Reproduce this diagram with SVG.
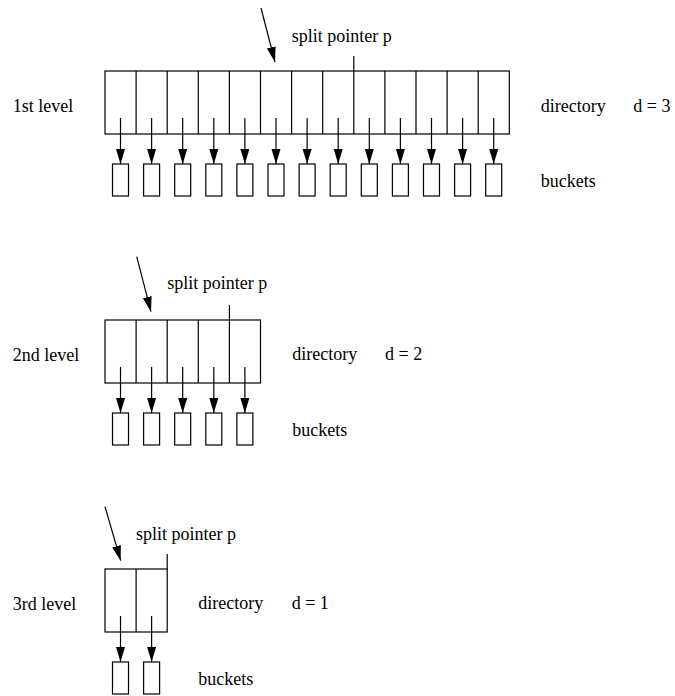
<svg xmlns="http://www.w3.org/2000/svg" width="675" height="696" viewBox="0 0 675 696">
  <style>
    text { font-family: "Liberation Serif", "Times New Roman", serif; font-size: 18px; fill: #000; }
    .box { fill: none; stroke: #000; stroke-width: 1.2; }
    .div { stroke: #000; stroke-width: 1.2; fill: none; }
    .arr { stroke: #000; stroke-width: 1.2; fill: none; marker-end: url(#head); }
  </style>
  <defs>
    <marker id="head" markerUnits="userSpaceOnUse" markerWidth="16" markerHeight="10" refX="15" refY="4.5" orient="auto">
      <path d="M0,0 L15,4.5 L0,9 Z" fill="#000"/>
    </marker>
  </defs>

  <rect width="675" height="696" fill="#fff"/>

  <!-- level 1: 13 directory cells, d = 3 -->
  <g id="level1">
    <text x="12.7" y="111.7">1st level</text>
    <text x="291.7" y="42">split pointer p</text>
    <text x="540.7" y="111.7">directory</text>
    <text x="633.3" y="111.7">d = 3</text>
    <text x="540.7" y="187.3">buckets</text>
    <g id="dir1">
      <rect class="box" x="105" y="71" width="404.3" height="63"/>
      <path class="div" d="M136.1,71V134 M167.2,71V134 M198.3,71V134 M229.4,71V134 M260.5,71V134 M291.6,71V134 M322.7,71V134 M353.8,56V134 M384.9,71V134 M416,71V134 M447.1,71V134 M478.2,71V134"/>
    </g>
    <g id="buckets1">
      <rect class="box" x="112.5" y="164" width="16" height="32"/>
      <rect class="box" x="143.6" y="164" width="16" height="32"/>
      <rect class="box" x="174.7" y="164" width="16" height="32"/>
      <rect class="box" x="205.8" y="164" width="16" height="32"/>
      <rect class="box" x="236.9" y="164" width="16" height="32"/>
      <rect class="box" x="268" y="164" width="16" height="32"/>
      <rect class="box" x="299.1" y="164" width="16" height="32"/>
      <rect class="box" x="330.2" y="164" width="16" height="32"/>
      <rect class="box" x="361.3" y="164" width="16" height="32"/>
      <rect class="box" x="392.4" y="164" width="16" height="32"/>
      <rect class="box" x="423.5" y="164" width="16" height="32"/>
      <rect class="box" x="454.6" y="164" width="16" height="32"/>
      <rect class="box" x="485.7" y="164" width="16" height="32"/>
    </g>
  </g>

  <!-- level 2: 5 directory cells, d = 2 -->
  <g id="level2">
    <text x="12.7" y="360.7">2nd level</text>
    <text x="167.3" y="289.3">split pointer p</text>
    <text x="292.3" y="360">directory</text>
    <text x="385" y="360">d = 2</text>
    <text x="292.3" y="435.5">buckets</text>
    <g id="dir2">
      <rect class="box" x="105" y="320" width="155.5" height="63"/>
      <path class="div" d="M136.1,320V383 M167.2,320V383 M198.3,320V383 M229.4,305V383"/>
    </g>
    <g id="buckets2">
      <rect class="box" x="112.5" y="413" width="16" height="32"/>
      <rect class="box" x="143.6" y="413" width="16" height="32"/>
      <rect class="box" x="174.7" y="413" width="16" height="32"/>
      <rect class="box" x="205.8" y="413" width="16" height="32"/>
      <rect class="box" x="236.9" y="413" width="16" height="32"/>
    </g>
  </g>

  <!-- level 3: 2 directory cells, d = 1 -->
  <g id="level3">
    <text x="12.7" y="609.7">3rd level</text>
    <text x="136" y="540">split pointer p</text>
    <text x="198.3" y="609">directory</text>
    <text x="291.7" y="609">d = 1</text>
    <text x="198.3" y="685">buckets</text>
    <g id="dir3">
      <rect class="box" x="105" y="569" width="62.2" height="63"/>
      <path class="div" d="M136.1,569V632 M167.2,554V569"/>
    </g>
    <g id="buckets3">
      <rect class="box" x="112.5" y="662" width="16" height="32"/>
      <rect class="box" x="143.6" y="662" width="16" height="32"/>
    </g>
  </g>

  <!-- connectors: split pointer arrows and directory-to-bucket links -->
  <g id="connectors">
    <line class="arr" x1="261" y1="8" x2="275" y2="62"/>
    <line class="arr" x1="136.7" y1="256.7" x2="151" y2="311.7"/>
    <line class="arr" x1="105" y1="506.7" x2="120.7" y2="560.7"/>

    <line class="arr" x1="120.5" y1="118" x2="120.5" y2="164"/>
    <line class="arr" x1="151.6" y1="118" x2="151.6" y2="164"/>
    <line class="arr" x1="182.7" y1="118" x2="182.7" y2="164"/>
    <line class="arr" x1="213.8" y1="118" x2="213.8" y2="164"/>
    <line class="arr" x1="244.9" y1="118" x2="244.9" y2="164"/>
    <line class="arr" x1="276" y1="118" x2="276" y2="164"/>
    <line class="arr" x1="307.1" y1="118" x2="307.1" y2="164"/>
    <line class="arr" x1="338.2" y1="118" x2="338.2" y2="164"/>
    <line class="arr" x1="369.3" y1="118" x2="369.3" y2="164"/>
    <line class="arr" x1="400.4" y1="118" x2="400.4" y2="164"/>
    <line class="arr" x1="431.5" y1="118" x2="431.5" y2="164"/>
    <line class="arr" x1="462.6" y1="118" x2="462.6" y2="164"/>
    <line class="arr" x1="493.7" y1="118" x2="493.7" y2="164"/>

    <line class="arr" x1="120.5" y1="367" x2="120.5" y2="413"/>
    <line class="arr" x1="151.6" y1="367" x2="151.6" y2="413"/>
    <line class="arr" x1="182.7" y1="367" x2="182.7" y2="413"/>
    <line class="arr" x1="213.8" y1="367" x2="213.8" y2="413"/>
    <line class="arr" x1="244.9" y1="367" x2="244.9" y2="413"/>

    <line class="arr" x1="120.5" y1="616" x2="120.5" y2="662"/>
    <line class="arr" x1="151.6" y1="616" x2="151.6" y2="662"/>
  </g>
</svg>
